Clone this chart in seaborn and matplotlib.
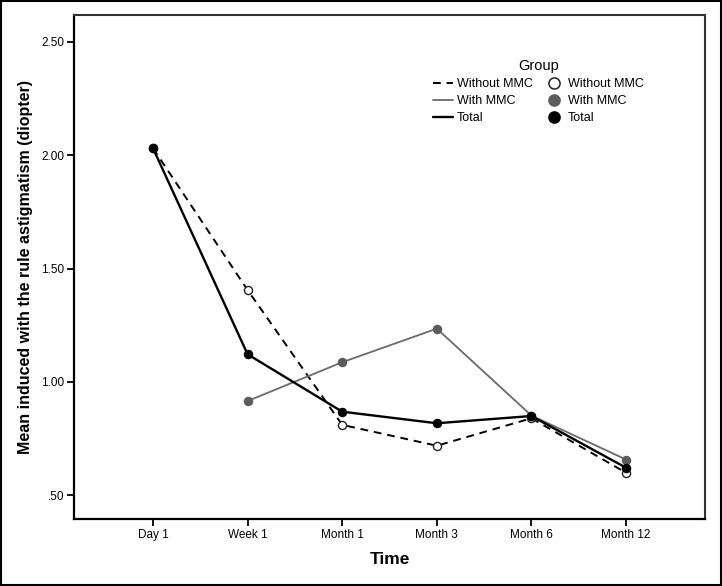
import pandas as pd
import seaborn as sns
import numpy as np

from matplotlib import pyplot as plt
from matplotlib import ticker as tkr
from matplotlib.lines import Line2D
from matplotlib.patches import Rectangle


TIMES = ["Day 1", "Week 1", "Month 1", "Month 3", "Month 6", "Month 12"]
WITHOUT_MMC = [2.03, 1.405, 0.811, 0.719, 0.84, 0.600]
WITH_MMC = [np.nan, 0.916, 1.087, 1.235, 0.852, 0.658]
TOTAL = [2.03, 1.122, 0.869, 0.818, 0.850, 0.622]
GROUPS = ["Without MMC", "With MMC", "Total"]
Y_TICKS = [0.5, 1.0, 1.5, 2.0, 2.5]

sns.set_style("white")
plt.rcParams["font.family"] = ["Liberation Sans", "DejaVu Sans"]
plt.rcParams["text.color"] = "black"
plt.rcParams["axes.labelcolor"] = "black"
plt.rcParams["xtick.color"] = "black"
plt.rcParams["ytick.color"] = "black"


def get_data():
    """
    Long-format table of group means by time point
    """
    frames = []
    for name, vals in zip(GROUPS, [WITHOUT_MMC, WITH_MMC, TOTAL]):
        frames.append(pd.DataFrame({"pos": np.arange(len(TIMES)),
                                    "time": TIMES, "value": vals,
                                    "group": name}))
    data = pd.concat(frames, ignore_index=True)
    return data.dropna()


def main():
    data = get_data()
    line_col = {"Without MMC": "black", "With MMC": "#6a6a6a", "Total": "black"}
    line_w = {"Without MMC": 1.4, "With MMC": 1.3, "Total": 1.7}
    dash = {"Without MMC": (4, 3), "With MMC": "", "Total": ""}
    face = {"Without MMC": "white", "With MMC": "#5c5c5c", "Total": "black"}
    edge = {"Without MMC": "#222222", "With MMC": "#5c5c5c", "Total": "black"}

    fig = plt.figure(figsize=(7.22, 5.86), dpi=100)
    ax = fig.add_axes([0.1025, 0.1143, 0.874, 0.86])

    for name in GROUPS:
        sub = data[data["group"] == name]
        sns.lineplot(data=sub, x="pos", y="value", ax=ax, color=line_col[name],
                     linewidth=line_w[name], dashes=False, legend=False,
                     sort=False, zorder=2)
        if dash[name]:
            ax.lines[-1].set_dashes(dash[name])
        sns.scatterplot(data=sub, x="pos", y="value", ax=ax, s=34,
                        color=face[name], edgecolor=edge[name], linewidth=1.0,
                        legend=False, zorder=3)

    ax.set_xlim(-0.835, 5.835)
    ax.set_ylim(0.396, 2.617)
    ax.set_xticks(range(len(TIMES)))
    ax.set_xticklabels(TIMES)
    ax.set_yticks(Y_TICKS)
    ax.yaxis.set_major_formatter(
        tkr.FuncFormatter(lambda x, p: "{:.2f}".format(x).lstrip("0")))
    ax.tick_params(axis="both", which="major", direction="out", length=5,
                   width=1.3, color="black", labelsize=8.5, pad=2,
                   bottom=True, left=True)
    for side in ["left", "bottom"]:
        ax.spines[side].set_color("black")
        ax.spines[side].set_linewidth(1.6)
    for side in ["top", "right"]:
        ax.spines[side].set_color("#333333")
        ax.spines[side].set_linewidth(1.5)

    ax.set_xlabel("Time", fontsize=12.5, fontweight="bold", labelpad=8)
    ax.set_ylabel("Mean induced with the rule astigmatism (diopter)",
                  fontsize=11.5, fontweight="bold", labelpad=6)

    handles = []
    for name in GROUPS:
        h = Line2D([], [], color=line_col[name], linewidth=line_w[name])
        if dash[name]:
            h.set_dashes(dash[name])
        handles.append(h)
    for name in GROUPS:
        handles.append(Line2D([], [], linestyle="", marker="o", markersize=8,
                              markerfacecolor=face[name],
                              markeredgecolor=edge[name], markeredgewidth=1.1))
    ax.legend(handles, GROUPS + GROUPS, ncol=2, frameon=False,
              title="Group", fontsize=9, title_fontsize=10.5,
              loc="upper left", bbox_to_anchor=(0.555, 0.93),
              handlelength=1.6, handletextpad=0.3, columnspacing=0.9,
              labelspacing=0.4, borderpad=0.2)

    fig.patches.append(Rectangle((0.002, 0.002), 0.996, 0.996, fill=False,
                                 edgecolor="black", linewidth=1.5,
                                 transform=fig.transFigure, figure=fig))
    fig.savefig("out.png", dpi=100)


if __name__ == "__main__":
    main()
